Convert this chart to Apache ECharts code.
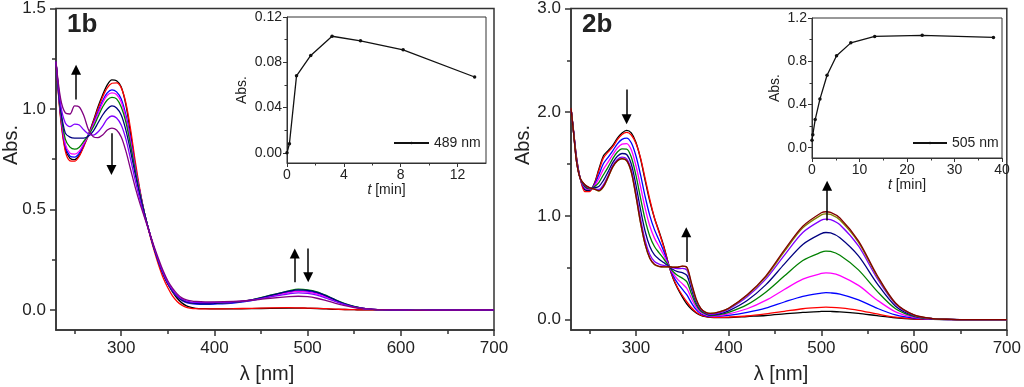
<!DOCTYPE html>
<html><head><meta charset="utf-8">
<script src="https://cdn.jsdelivr.net/npm/echarts@6/dist/echarts.min.js"></script>
<style>html,body{margin:0;padding:0;background:#fff}#c{width:1024px;height:387px}</style>
</head><body><div id="c"></div>
<script>
// ---------- Panel 1b : wavelengths and spectra ----------
const wl1 = [230,235,240,245,250,255,260,265,270,275,280,285,290,295,300,305,310,315,320,325,330,335,340,345,350,355,360,365,370,375,380,390,400,420,440,460,480,490,500,510,520,530,540,550,560,570,580,600,620,650,700];
const b1_black = [1.235,0.96,0.80,0.755,0.748,0.77,0.82,0.875,0.94,1.01,1.07,1.12,1.145,1.14,1.11,1.02,0.88,0.72,0.59,0.48,0.39,0.31,0.24,0.18,0.13,0.09,0.058,0.035,0.02,0.012,0.008,0.006,0.005,0.005,0.006,0.008,0.009,0.009,0.008,0.007,0.005,0.003,0.002,0.001,0,0,0,-0.001,-0.001,0,0];
const b1_red = [1.235,0.95,0.79,0.742,0.74,0.765,0.815,0.87,0.935,1.0,1.06,1.105,1.128,1.13,1.105,1.03,0.9,0.74,0.60,0.48,0.385,0.30,0.225,0.16,0.11,0.07,0.042,0.024,0.013,0.008,0.006,0.005,0.005,0.006,0.008,0.01,0.011,0.01,0.009,0.008,0.006,0.004,0.002,0.001,0,0,0,-0.001,-0.001,0,0];
const b1_blue = [1.235,0.97,0.815,0.765,0.76,0.78,0.825,0.87,0.925,0.985,1.04,1.08,1.095,1.085,1.05,0.97,0.85,0.71,0.59,0.48,0.39,0.31,0.24,0.18,0.13,0.094,0.066,0.047,0.036,0.031,0.029,0.028,0.029,0.034,0.046,0.068,0.088,0.095,0.092,0.083,0.066,0.046,0.028,0.015,0.007,0.003,0.001,0,-0.002,-0.001,0];
const b1_magenta = [1.235,0.98,0.825,0.78,0.775,0.79,0.83,0.87,0.92,0.975,1.03,1.068,1.08,1.072,1.035,0.955,0.84,0.705,0.585,0.48,0.39,0.31,0.24,0.18,0.13,0.095,0.068,0.05,0.04,0.036,0.034,0.033,0.034,0.038,0.049,0.068,0.086,0.092,0.089,0.08,0.064,0.045,0.028,0.015,0.007,0.003,0.001,0,-0.002,-0.001,0];
const b1_green = [1.235,0.99,0.85,0.81,0.80,0.81,0.84,0.87,0.91,0.96,1.01,1.045,1.058,1.05,1.01,0.935,0.82,0.695,0.58,0.48,0.39,0.31,0.24,0.18,0.13,0.095,0.068,0.05,0.04,0.035,0.033,0.032,0.033,0.037,0.05,0.073,0.095,0.103,0.1,0.09,0.072,0.05,0.031,0.017,0.008,0.003,0.001,0,-0.002,-0.001,0];
const b1_navy = [1.235,1.0,0.88,0.86,0.855,0.855,0.855,0.865,0.89,0.93,0.97,1.0,1.015,1.005,0.97,0.895,0.79,0.675,0.57,0.475,0.39,0.31,0.24,0.18,0.13,0.095,0.068,0.05,0.04,0.035,0.033,0.032,0.033,0.037,0.05,0.072,0.093,0.1,0.097,0.087,0.07,0.049,0.03,0.016,0.008,0.003,0.001,0,-0.002,-0.001,0];
const b1_violet = [1.235,1.02,0.93,0.912,0.925,0.92,0.895,0.875,0.87,0.885,0.915,0.95,0.965,0.955,0.92,0.85,0.75,0.645,0.55,0.465,0.39,0.315,0.245,0.185,0.135,0.1,0.072,0.054,0.044,0.039,0.037,0.036,0.037,0.04,0.049,0.065,0.08,0.085,0.082,0.073,0.058,0.041,0.026,0.014,0.007,0.003,0.001,0,-0.002,-0.001,0];
const b1_purple = [1.235,1.05,0.98,0.975,1.015,1.01,0.965,0.895,0.862,0.857,0.87,0.895,0.905,0.895,0.86,0.79,0.70,0.61,0.53,0.46,0.39,0.32,0.255,0.195,0.145,0.108,0.08,0.06,0.05,0.045,0.042,0.04,0.04,0.042,0.048,0.058,0.066,0.068,0.066,0.058,0.046,0.033,0.021,0.012,0.006,0.003,0.001,0,-0.002,-0.001,0];

// ---------- Panel 2b : wavelengths and spectra ----------
const wl2 = [230,233,236,240,245,250,255,260,265,270,275,280,285,290,295,300,305,310,315,320,325,330,336,340,345,350,355,360,365,370,375,380,390,400,420,440,460,480,500,505,510,520,540,560,580,600,620,640,660,700];
const b2_black = [2.04,1.80,1.56,1.36,1.25,1.245,1.31,1.45,1.58,1.63,1.68,1.75,1.80,1.825,1.80,1.71,1.55,1.34,1.14,0.98,0.85,0.71,0.51,0.40,0.30,0.22,0.15,0.10,0.065,0.04,0.028,0.022,0.02,0.02,0.03,0.04,0.055,0.07,0.079,0.08,0.079,0.075,0.06,0.038,0.018,0.006,0.002,0,0,0];
const b2_red = [2.04,1.80,1.56,1.36,1.235,1.235,1.30,1.435,1.56,1.615,1.665,1.735,1.785,1.805,1.78,1.70,1.56,1.36,1.16,0.98,0.84,0.70,0.51,0.405,0.31,0.235,0.17,0.115,0.072,0.045,0.031,0.025,0.023,0.025,0.035,0.055,0.08,0.105,0.118,0.12,0.119,0.113,0.09,0.055,0.024,0.008,0.003,0.001,0,0];
const b2_blue = [2.04,1.795,1.55,1.36,1.262,1.251,1.297,1.397,1.505,1.565,1.628,1.695,1.738,1.751,1.705,1.58,1.395,1.185,1.003,0.868,0.766,0.66,0.51,0.426,0.351,0.294,0.238,0.16,0.096,0.056,0.039,0.03,0.033,0.04,0.07,0.11,0.17,0.225,0.256,0.26,0.258,0.245,0.19,0.11,0.045,0.014,0.004,0.001,0,0];
const b2_magenta = [2.04,1.79,1.543,1.36,1.272,1.256,1.289,1.36,1.451,1.518,1.59,1.655,1.693,1.698,1.637,1.486,1.283,1.073,0.903,0.786,0.705,0.623,0.51,0.445,0.388,0.347,0.30,0.203,0.119,0.068,0.047,0.035,0.04,0.055,0.105,0.185,0.29,0.39,0.445,0.45,0.448,0.425,0.33,0.19,0.075,0.022,0.006,0.002,0,0];
const b2_green = [2.04,1.788,1.536,1.36,1.28,1.26,1.28,1.322,1.397,1.471,1.552,1.616,1.647,1.645,1.568,1.393,1.172,0.962,0.804,0.705,0.644,0.587,0.51,0.464,0.425,0.40,0.364,0.246,0.141,0.08,0.055,0.04,0.048,0.07,0.145,0.265,0.42,0.57,0.65,0.66,0.657,0.62,0.48,0.275,0.105,0.03,0.008,0.002,0,0];
const b2_navy = [2.04,1.784,1.528,1.36,1.29,1.265,1.27,1.284,1.343,1.425,1.514,1.576,1.602,1.592,1.50,1.299,1.06,0.85,0.705,0.624,0.583,0.55,0.51,0.483,0.462,0.453,0.427,0.29,0.164,0.091,0.063,0.045,0.055,0.085,0.185,0.335,0.535,0.725,0.83,0.84,0.836,0.79,0.615,0.35,0.13,0.036,0.009,0.002,0,0];
const b2_violet = [2.04,1.781,1.523,1.36,1.297,1.268,1.263,1.255,1.301,1.388,1.485,1.545,1.567,1.551,1.447,1.226,0.973,0.763,0.628,0.561,0.536,0.522,0.51,0.498,0.491,0.494,0.476,0.323,0.181,0.10,0.069,0.05,0.065,0.1,0.22,0.39,0.62,0.84,0.96,0.97,0.965,0.915,0.71,0.40,0.15,0.042,0.01,0.003,0,0];
const b2_maroon = [2.04,1.78,1.52,1.36,1.30,1.272,1.258,1.243,1.285,1.375,1.473,1.532,1.553,1.535,1.425,1.195,0.935,0.725,0.593,0.533,0.514,0.509,0.51,0.505,0.505,0.515,0.505,0.352,0.20,0.108,0.071,0.06,0.075,0.11,0.24,0.42,0.67,0.90,1.03,1.04,1.035,0.98,0.76,0.43,0.16,0.045,0.01,0.003,0,0];
const b2_olive = [2.04,1.78,1.52,1.36,1.30,1.27,1.26,1.24,1.28,1.37,1.47,1.53,1.55,1.53,1.42,1.19,0.93,0.72,0.59,0.53,0.512,0.508,0.51,0.505,0.505,0.515,0.50,0.34,0.19,0.105,0.072,0.06,0.075,0.108,0.235,0.41,0.655,0.885,1.01,1.02,1.015,0.96,0.745,0.42,0.157,0.044,0.01,0.003,0,0];

// ---------- Insets: kinetics ----------
const t489 = [0,0.17,0.67,1.67,3.17,5.17,8.17,13.2];
const a489 = [0,0.008,0.068,0.086,0.103,0.099,0.091,0.067];
const t505 = [0,0.17,0.67,1.67,3.17,5.17,8.17,13.2,23.2,38.2];
const a505 = [0.07,0.12,0.26,0.45,0.67,0.85,0.97,1.03,1.04,1.02];

// ---------- Tick labels ----------
const xMain = [300,400,500,600,700], xMainMinor = [250,350,450,550,650];
const y1Main = [0,0.5,1.0,1.5], y1Minor = [0.25,0.75,1.25];
const y2Main = [0,1,2,3], y2Minor = [0.5,1.5,2.5];
const xIn1 = [0,4,8,12], xIn1Minor = [2,6,10];
const yIn1 = [0,0.04,0.08,0.12], yIn1Minor = [0.02,0.06,0.10];
const xIn2 = [0,10,20,30,40], xIn2Minor = [5,15,25,35];
const yIn2 = [0,0.4,0.8,1.2], yIn2Minor = [0.2,0.6,1.0];

const FF = "'Liberation Sans', Arial, sans-serif";
const AX = '#333', TX = '#222';
const pairs = (xs, ys) => xs.map((x, i) => [x, ys[i]]);

function axisPair(kind, g, min, max, major, minor, o) {
  const pos = kind === 'x' ? 'bottom' : 'left';
  const a = {
    type: 'value', gridIndex: g, min: min, max: max, position: pos,
    axisLine: {show: true, onZero: false, lineStyle: {color: AX, width: o.lw}},
    axisTick: {show: true, inside: false, length: o.tl, customValues: major, lineStyle: {color: AX, width: o.lw}},
    axisLabel: {show: true, customValues: major, margin: o.margin, fontSize: o.fs, color: TX, fontFamily: FF, formatter: o.fmt},
    splitLine: {show: false}
  };
  if (o.name) {
    a.name = o.name; a.nameLocation = 'middle'; a.nameGap = o.nameGap;
    a.nameTextStyle = {fontSize: o.nfs, color: TX, fontFamily: FF, rich: {i: {fontStyle: 'italic', fontSize: o.nfs, fontFamily: FF, color: TX}}};
  }
  const b = {
    type: 'value', gridIndex: g, min: min, max: max, position: pos,
    axisLine: {show: false, onZero: false},
    axisTick: {show: true, inside: false, length: o.tl2, customValues: minor, lineStyle: {color: AX, width: o.lw}},
    axisLabel: {show: false, customValues: minor},
    splitLine: {show: false}
  };
  return [a, b];
}

const mainOptX = {lw: 1.5, tl: 6, tl2: 4, margin: 10, fs: 17, fmt: v => String(Math.round(v))};
const xAxis = [
  ...axisPair('x', 0, 230, 700, xMain, xMainMinor, mainOptX),
  ...axisPair('x', 1, 0, 14, xIn1, xIn1Minor, {lw: 1, tl: 4, tl2: 2.5, margin: 5, fs: 14, fmt: v => String(v), name: '{i|t} [min]', nameGap: 20, nfs: 14}),
  ...axisPair('x', 2, 230, 700, xMain, xMainMinor, mainOptX),
  ...axisPair('x', 3, 0, 40, xIn2, xIn2Minor, {lw: 1, tl: 4, tl2: 2.5, margin: 5, fs: 14, fmt: v => String(v), name: '{i|t} [min]', nameGap: 20, nfs: 14})
];
const yAxis = [
  ...axisPair('y', 0, -0.1, 1.5, y1Main, y1Minor, {lw: 1.5, tl: 6, tl2: 4, margin: 10, fs: 17, fmt: v => v.toFixed(1)}),
  ...axisPair('y', 1, -0.009, 0.12, yIn1, yIn1Minor, {lw: 1, tl: 4, tl2: 2.5, margin: 5, fs: 14, fmt: v => v.toFixed(2), name: 'Abs.', nameGap: 38, nfs: 14}),
  ...axisPair('y', 2, -0.1, 3.0, y2Main, y2Minor, {lw: 1.5, tl: 6, tl2: 4, margin: 10, fs: 17, fmt: v => v.toFixed(1)}),
  ...axisPair('y', 3, -0.095, 1.2, yIn2, yIn2Minor, {lw: 1, tl: 4, tl2: 2.5, margin: 5, fs: 14, fmt: v => v.toFixed(1), name: 'Abs.', nameGap: 30, nfs: 14})
];

const grid = [
  {left: 56, top: 6, width: 438, height: 324, show: true, borderColor: AX, borderWidth: 1.5},
  {left: 287, top: 17, width: 199, height: 146, show: true, borderColor: AX, borderWidth: 1},
  {left: 571, top: 6, width: 439, height: 324, show: true, borderColor: AX, borderWidth: 1.5},
  {left: 812, top: 18, width: 190, height: 140, show: true, borderColor: AX, borderWidth: 1}
];

function spec(name, xs, ys, color, xi, yi) {
  return {type: 'line', name: name, xAxisIndex: xi, yAxisIndex: yi, data: pairs(xs, ys), showSymbol: false, symbol: 'none',
    smooth: 0.3, lineStyle: {color: color, width: 1.3}, itemStyle: {color: color}, silent: true, animation: false};
}
function arrows(list) {
  return {silent: true, animation: false, symbol: ['none', 'triangle'], symbolSize: 10,
    label: {show: false}, lineStyle: {color: '#000', width: 1.5, type: 'solid'}, itemStyle: {color: '#000'},
    emphasis: {disabled: true},
    data: list.map(a => [{coord: a[0]}, {coord: a[1]}])};
}

const s1 = [
  spec('black', wl1, b1_black, '#000000', 0, 0),
  spec('red', wl1, b1_red, '#ff0000', 0, 0),
  spec('blue', wl1, b1_blue, '#0000ff', 0, 0),
  spec('magenta', wl1, b1_magenta, '#ff00ff', 0, 0),
  spec('green', wl1, b1_green, '#008000', 0, 0),
  spec('navy', wl1, b1_navy, '#000080', 0, 0),
  spec('violet', wl1, b1_violet, '#8000ff', 0, 0),
  spec('purple', wl1, b1_purple, '#800080', 0, 0)
];
s1[0].markLine = arrows([
  [[251.5, 1.047], [251.5, 1.195]],
  [[289.5, 0.879], [289.5, 0.696]],
  [[486.2, 0.138], [486.2, 0.281]],
  [[500.6, 0.306], [500.6, 0.163]]
]);
const s2 = [
  spec('black2', wl2, b2_black, '#000000', 4, 4),
  spec('red2', wl2, b2_red, '#ff0000', 4, 4),
  spec('blue2', wl2, b2_blue, '#0000ff', 4, 4),
  spec('magenta2', wl2, b2_magenta, '#ff00ff', 4, 4),
  spec('green2', wl2, b2_green, '#008000', 4, 4),
  spec('navy2', wl2, b2_navy, '#000080', 4, 4),
  spec('violet2', wl2, b2_violet, '#8000ff', 4, 4),
  spec('olive2', wl2, b2_olive, '#808000', 4, 4),
  spec('maroon2', wl2, b2_maroon, '#800000', 4, 4)
];
s2[0].markLine = arrows([
  [[290, 2.22], [290, 1.933]],
  [[354.3, 0.555], [354.3, 0.842]],
  [[506.2, 0.957], [506.2, 1.292]]
]);
const kin = (name, xs, ys, xi, yi) => ({type: 'line', name: name, xAxisIndex: xi, yAxisIndex: yi, data: pairs(xs, ys),
  symbol: 'circle', symbolSize: 3.5, showSymbol: true, lineStyle: {color: '#111', width: 1.3}, itemStyle: {color: '#111'},
  silent: true, animation: false});

const legendText = {fontSize: 14, color: TX, fontFamily: FF};
const option = {
  animation: false,
  backgroundColor: '#fff',
  textStyle: {fontFamily: FF},
  grid: grid, xAxis: xAxis, yAxis: yAxis,
  legend: [
    {data: ['489 nm'], left: 388, top: 131, itemWidth: 35, itemHeight: 3, itemGap: 5, textStyle: legendText, selectedMode: false},
    {data: ['505 nm'], left: 907, top: 131, itemWidth: 34, itemHeight: 3, itemGap: 5, textStyle: legendText, selectedMode: false}
  ],
  series: [...s1, ...s2, kin('489 nm', t489, a489, 2, 2), kin('505 nm', t505, a505, 6, 6)],
  graphic: [
    {type: 'text', left: 67, top: 12, style: {text: '1b', font: "bold 26px 'Liberation Sans', Arial, sans-serif", fill: TX}},
    {type: 'text', left: 582, top: 12, style: {text: '2b', font: "bold 26px 'Liberation Sans', Arial, sans-serif", fill: TX}},
    {type: 'text', x: 11, y: 145, rotation: Math.PI / 2, style: {text: 'Abs.', fontSize: 20, fontFamily: FF, fill: TX, align: 'center', verticalAlign: 'middle'}},
    {type: 'text', x: 523, y: 145, rotation: Math.PI / 2, style: {text: 'Abs.', fontSize: 20, fontFamily: FF, fill: TX, align: 'center', verticalAlign: 'middle'}},
    {type: 'text', x: 267, y: 374, style: {text: 'λ [nm]', fontSize: 20, fontFamily: FF, fill: TX, align: 'center', verticalAlign: 'middle'}},
    {type: 'text', x: 781, y: 374, style: {text: 'λ [nm]', fontSize: 20, fontFamily: FF, fill: TX, align: 'center', verticalAlign: 'middle'}}
  ]
};
const chart = echarts.init(document.getElementById('c'), null, {renderer: 'canvas'});
chart.setOption(option);
</script></body></html>
